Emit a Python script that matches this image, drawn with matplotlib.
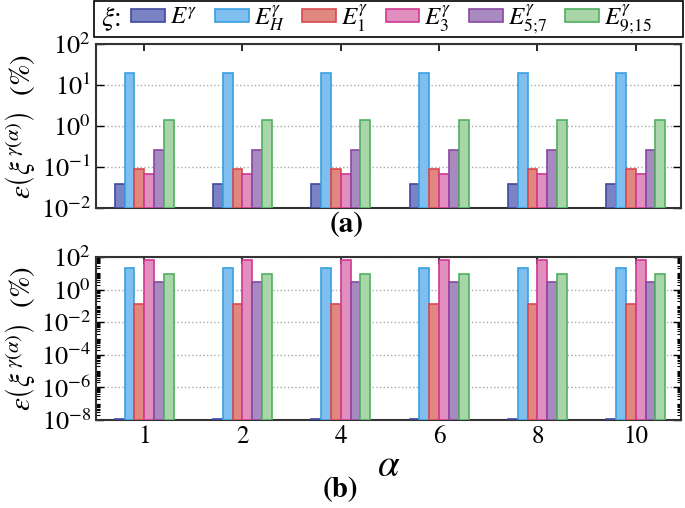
import numpy as np
import matplotlib
matplotlib.use("Agg")
import matplotlib.pyplot as plt
from matplotlib.patches import Patch, Rectangle
from matplotlib.ticker import LogLocator, NullFormatter

plt.rcParams['font.family'] = ['STIXGeneral', 'DejaVu Serif']
plt.rcParams['mathtext.fontset'] = 'stix'

# Datos
alphas = ['1', '2', '4', '6', '8', '10']
series = [r'$E^{\gamma}$', r'$E_H^{\gamma}$', r'$E_1^{\gamma}$',
          r'$E_3^{\gamma}$', r'$E_{5;\!7}^{\gamma}$', r'$E_{9;\!15}^{\gamma}$']
vals_a = [0.038, 20.0, 0.088, 0.067, 0.255, 1.38]
vals_b = [1.08e-8, 20.0, 0.126, 66.0, 2.8, 9.1]

fills = ['#7b83c4', '#7fbfef', '#e08880', '#e08fbf', '#a889c0', '#a9d6a9']
edges = ['#3f4aa0', '#3a9fe0', '#d84850', '#d03890', '#8848a0', '#50b060']

W, H = 685, 508
fig = plt.figure(figsize=(W / 100, H / 100), dpi=100)
ax1 = fig.add_axes([96 / W, 1 - 208 / H, 585 / W, 164 / H])
ax2 = fig.add_axes([96 / W, 1 - 420 / H, 585 / W, 163 / H])

x = np.arange(len(alphas))
bw = 0.1
for ax, vals, ymin in [(ax1, vals_a, 1e-2), (ax2, vals_b, 1e-8)]:
    for i, v in enumerate(vals):
        ax.bar(x + (i - 2.5) * bw, [v - ymin] * len(x), width=bw, bottom=ymin,
               color=fills[i], edgecolor=edges[i], linewidth=1.2, zorder=3)
    ax.set_yscale('log')
    ax.set_xlim(-0.49, 5.46)
    ax.set_xticks(x)
    ax.tick_params(axis='x', direction='in', top=True, bottom=True,
                   length=5, width=1.2, labelsize=18)
    ax.tick_params(axis='y', which='both', direction='in', left=True,
                   right=True, labelsize=19)
    ax.tick_params(axis='y', which='major', length=6, width=1.0)
    ax.tick_params(axis='y', which='minor', length=3, width=0.8)
    for s in ax.spines.values():
        s.set_linewidth(1.5)
        s.set_color('#333333')
    ax.grid(axis='y', which='major', linestyle=':', color='#aaaaaa',
            linewidth=1.0, zorder=0)
    ax.set_ylabel(r'$\varepsilon\left(\xi^{\,\gamma(\alpha)}\right)$  $(\%)$',
                  fontsize=21, labelpad=3)

ax1.set_ylim(1e-2, 1e2)
ax1.yaxis.set_major_locator(LogLocator(base=10, numticks=10))
ax1.set_xticklabels([])

ax2.set_ylim(1e-8, 1e2)
ax2.set_yticks([1e-8, 1e-6, 1e-4, 1e-2, 1e0, 1e2])
ax2.yaxis.set_minor_locator(LogLocator(base=10, subs=np.arange(1, 10), numticks=30))
ax2.yaxis.set_minor_formatter(NullFormatter())
ax2.set_xticklabels(alphas)
ax2.set_xlabel(r'$\alpha$', fontsize=28, labelpad=0)

fig.text(347 / W, 1 - 225 / H, '(a)', fontsize=21, fontweight='bold',
         ha='center', va='center')
fig.text(340 / W, 1 - 490 / H, '(b)', fontsize=21, fontweight='bold',
         ha='center', va='center')

# Leyenda
fig.patches.append(Rectangle((94 / W, 1 - 37 / H), 589 / W, 36 / H,
                             transform=fig.transFigure, fill=False,
                             edgecolor='black', linewidth=1.2))
fig.text(101 / W, 1 - 19 / H, r'$\xi$:', fontsize=20, ha='left', va='center')
handles = [Patch(facecolor=fills[i], edgecolor=edges[i], linewidth=1.2)
           for i in range(len(series))]
fig.legend(handles, series, ncol=6, loc='center left',
           bbox_to_anchor=(131 / W, 1 - 19 / H), frameon=False, fontsize=18,
           handlelength=1.35, handleheight=0.45, handletextpad=0.2,
           columnspacing=0.7, borderaxespad=0, borderpad=0)

fig.savefig('out.png', dpi=100)
